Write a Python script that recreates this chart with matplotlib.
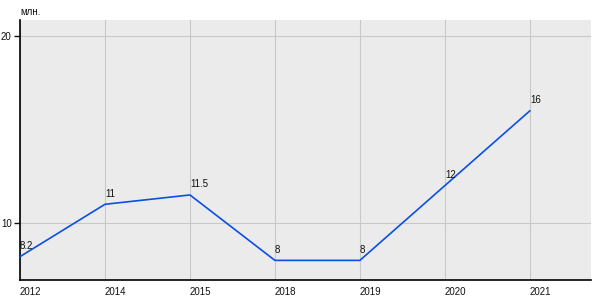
import matplotlib.pyplot as plt

# данные
years = ['2012', '2014', '2015', '2018', '2019', '2020', '2021']
values = [8.2, 11, 11.5, 8, 8, 12, 16]
labels = ['8.2', '11', '11.5', '8', '8', '12', '16']

plt.rcParams['font.family'] = ['Liberation Sans', 'DejaVu Sans']

fig = plt.figure(figsize=(6, 3), dpi=100)
ax = fig.add_axes([20/600, 20/300, 571/600, 260/300])
ax.set_facecolor('#ebebeb')

x = list(range(len(years)))
ax.plot(x, values, color='#0a4fe6', linewidth=1.2, zorder=3)

for xi, v, lab in zip(x, values, labels):
    ax.annotate(lab, (xi, v), xytext=(0, 4), textcoords='offset points',
                fontsize=7, color='#111111', ha='left', va='bottom')

ax.set_xlim(0, 6.72)
ax.set_ylim(6.95, 20.86)
ax.set_xticks(x)
ax.set_xticklabels(years, ha='left')
ax.set_yticks([10, 20])
ax.grid(True, color='#c8c8c8', linewidth=0.8)
ax.set_axisbelow(True)

for s in ['top', 'right']:
    ax.spines[s].set_visible(False)
ax.spines['left'].set_color('black')
ax.spines['bottom'].set_color('black')
ax.spines['left'].set_linewidth(1.2)
ax.spines['bottom'].set_linewidth(1.2)

ax.tick_params(axis='x', length=0, pad=5, labelsize=7, colors='#111111')
ax.tick_params(axis='y', length=4, width=1, pad=2, labelsize=7, colors='#111111')

fig.text(20/600, 1 - 12/300, 'млн.', fontsize=7, color='#111111', va='center', ha='left')

plt.savefig('out.png', dpi=100)
